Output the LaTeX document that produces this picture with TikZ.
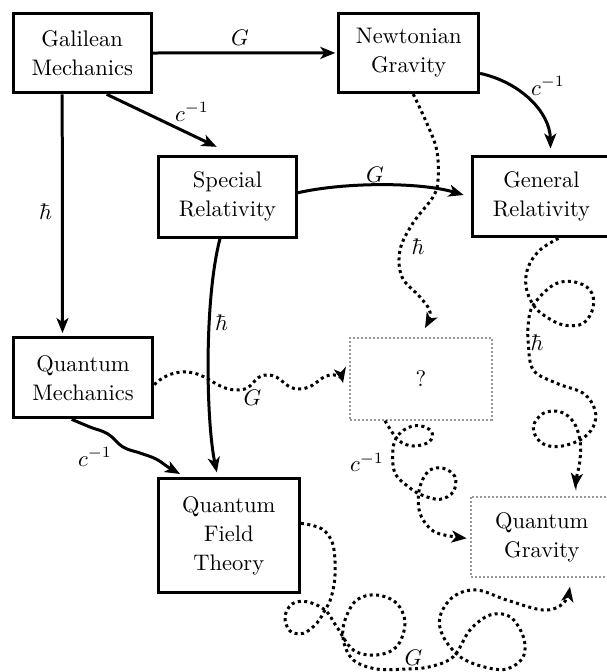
\documentclass[tikz,border=0pt]{standalone}
\usepackage{fontspec}
\setmainfont{Latin Modern Roman}
\usetikzlibrary{arrows.meta}
\newcommand\diagfont{\fontsize{10}{12.89}\selectfont}
\tikzset{
  box/.style={draw, line width=1.333pt, align=center, inner sep=0pt, font=\diagfont},
  ghost/.style={draw=black!40, line width=0.889pt, dash pattern=on 0.889pt off 0.889pt, align=center, inner sep=0pt, font=\diagfont},
  lab/.style={inner sep=0pt, font=\diagfont},
  arr/.style={line width=1.333pt, -{Stealth[length=6.667pt,width=5.333pt,inset=1.778pt]}},
  dotarr/.style={arr, dash pattern=on 1.333pt off 1.511pt},
}
\begin{document}
\begin{tikzpicture}[x=0.4444pt,y=-0.4444pt]
\useasboundingbox (0,0) rectangle (607,672);
\clip (0,0) rectangle (607,672);
% boxes
\node[box, minimum width=61.33pt, minimum height=35.38pt] (gm) at (82.2,53) {Galilean\\Mechanics};
\node[box, minimum width=62.09pt, minimum height=35.24pt] (ng) at (408.7,52.9) {Newtonian\\Gravity};
\node[box, minimum width=61.07pt, minimum height=35.78pt] (sr) at (227.5,196.8) {Special\\Relativity};
\node[box, minimum width=61.6pt, minimum height=35.69pt] (gr) at (541.5,196.7) {General\\Relativity};
\node[box, minimum width=62.04pt, minimum height=35.69pt] (qm) at (83,377.7) {Quantum\\Mechanics};
\node[box, minimum width=62.8pt, minimum height=50.53pt] (qft) at (228.8,535.7) {Quantum\\Field\\Theory};
\node[ghost, minimum width=62.84pt, minimum height=36.44pt] (qq) at (421,378.7) {?};
\node[ghost, minimum width=62.84pt, minimum height=35.82pt] (qg) at (541.8,537) {Quantum\\Gravity};
% labels
\node[lab] (l1) at (240,38) {$G$};
\node[lab] (l2) at (192,112) {$c^{-1}$};
\node[lab] (l3) at (45.5,212) {$\hbar$};
\node[lab] (l4) at (548,86) {$c^{-1}$};
\node[lab] (l5) at (375,175) {$G$};
\node[lab] (l6) at (221.5,323) {$\hbar$};
\node[lab] (l7) at (252.5,398) {$G$};
\node[lab] (l8) at (95,457) {$c^{-1}$};
\node[lab] (l9) at (418,247) {$\hbar$};
\node[lab] (l10) at (537,343) {$\hbar$};
\node[lab] (l11) at (367,462) {$c^{-1}$};
\node[lab] (l12) at (413.5,658) {$G$};
% solid connectors
\draw[arr, shorten >=0.889pt] (gm.east) -- (ng.west);
\draw[arr] ([xshift=10.89pt]gm.south) -- ([xshift=-4.8pt,yshift=3.64pt]sr.north);
\draw[arr] ([xshift=-8.89pt]gm.south) -- ([xshift=-9.11pt,yshift=1.333pt]qm.north);
\draw[arr] ([yshift=-9.11pt]ng.east) .. controls (520,82) and (550,112) .. ([xshift=4pt,yshift=2.89pt]gr.north);
\draw[arr] ([yshift=1.78pt]sr.east) .. controls (345,182) and (420,182) .. ([xshift=-3.11pt,yshift=0.756pt]gr.west);
\draw[arr] ([xshift=-3.33pt]sr.south) .. controls (204,300) and (206,420) .. ([xshift=-5.33pt,yshift=2.22pt]qft.north);
\draw[arr] plot[smooth, tension=0.7] coordinates {([xshift=-5.02pt]qm.south) (90,427) (108,434) (123,447) (140,453) (156,459) (168,467) (180,474)};
% dotted connectors
\draw[dotarr] plot[smooth, tension=0.9] coordinates {([yshift=-3.11pt]qm.east) (187,372) (236,390) (267,375) (299,389) (330,375) (343,383)};
\draw[dotarr] plot[smooth, tension=0.6] coordinates {([xshift=2pt]ng.south) (426.7,123) (436.7,150) (438,180) (433,197) (413,223) (400,250) (402,277) (420,297) (430,312) (425,328)};
\draw[dotarr] plot[smooth, tension=0.6] coordinates {([xshift=7.56pt]gr.south) (540,250) (528.3,266.7) (526,286.7) (533.3,305) (545,316) (563.3,325) (583.3,323.3) (593.3,306.7) (590,290) (573.3,281.7) (553.3,285) (533.3,305) (528.3,323.3) (528.3,343.3) (533.3,370) (556.7,383.3) (583.3,393.3) (595,410) (593.3,426.7) (580,440) (556.7,446.7) (540,441.7) (533.3,426.7) (543.3,413.3) (560,411.7) (573.3,421.7) (580,440) (580,460) (576.7,476.7) (575,488.3)};
\draw[dotarr] plot[smooth, tension=0.6] coordinates {([xshift=-16pt]qq.south) (398.3,440) (413.3,446) (429.3,441.7) (431.7,431.7) (420,425.7) (406.7,428.3) (396,438.3) (392.7,453.3) (395,473.3) (408.3,486.7) (421.7,495) (440,499.3) (453.3,491.7) (455,476.7) (443.3,468.3) (430,470) (421.7,481.7) (418.3,496.7) (420,513.3) (428.3,526.7) (440,534) (466.7,538.3)};
\draw[dotarr] plot[smooth, tension=0.6] coordinates {([yshift=5.51pt]qft.east) (322,529) (333,545) (335,575) (331,598) (325,610) (316.7,623.3) (303.3,633.3) (290,631) (285,617) (292,604) (306.7,601.7) (325,610) (336.7,626.7) (353.3,650) (376.7,655) (396.7,646.7) (405,623.3) (396.7,603.3) (376.7,595) (356.7,600) (345,620) (343.3,640) (353.3,660) (376.7,669) (406.7,669) (430,666.7) (453.3,656.7) (470,630) (490,615) (510,616.7) (523.3,636.7) (523.3,656.7) (506.7,669) (483.3,666.7) (460,656.7) (443.3,636.7) (440,616.7) (453.3,596.7) (476.7,590) (506.7,600) (543.3,610) (563.3,603.3) (570,586.7)};
\end{tikzpicture}
\end{document}
